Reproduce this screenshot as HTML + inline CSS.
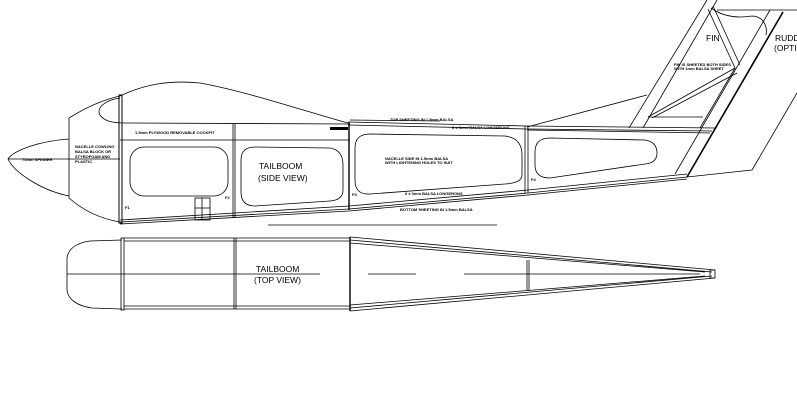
<!DOCTYPE html>
<html><head><meta charset="utf-8"><style>
html,body{margin:0;padding:0;background:#fff;width:797px;height:415px;overflow:hidden}
svg{display:block}
text{font-family:"Liberation Sans",sans-serif;fill:#000}
.s{font-size:4px;font-weight:bold}
.m{font-size:8.5px;font-family:"Liberation Sans",sans-serif}
</style></head><body>
<svg width="797" height="415" viewBox="0 0 797 415" fill="none" stroke="#000" stroke-width="0.8">
<path d="M69,139 C40,141 14,150 8,159 C14,172 40,190 69,196"/>
<line x1="8" y1="159" x2="120" y2="159"/>
<path d="M69,118 C85,108 102,100 120,96"/>
<line x1="69" y1="118" x2="69" y2="198"/>
<path d="M69,198 C85,212 102,219 120,222"/>
<rect x="119" y="95" width="3" height="128" stroke-width="1"/>
<path d="M120,96 C145,84 170,80 200,83 C250,92 320,116 348,123"/>
<path d="M120,98 C105,100 96,108 100,115 C104,121 112,123 125,123 L350,124"/>
<line x1="120" y1="140" x2="350" y2="140"/>
<rect x="330" y="127" width="18" height="3" fill="#000" stroke="none"/>
<line x1="233" y1="124" x2="233" y2="218"/><line x1="235" y1="124" x2="235" y2="218"/>
<line x1="349" y1="122" x2="349" y2="210" stroke-width="1.4"/>
<line x1="525" y1="126" x2="525" y2="193"/><line x1="528" y1="126" x2="528" y2="193"/>
<path d="M348,122 L527,126 L715,128"/>
<path d="M348,125 L527,129 L712,131"/>
<path d="M350,120 L440,121"/>
<path d="M527,130 L710,133"/>
<path d="M120,222 L349,209 L528,193 L687,177 L752,170"/>
<path d="M120,220 L349,206 L528,190 L687,174"/>
<path d="M120,224 L349,211 L528,195 L687,179"/>
<line x1="268" y1="225" x2="497" y2="225"/>
<rect x="130" y="147" width="98" height="49" rx="14"/>
<path d="M255,147 L330,148 Q343,150 343,165 L343,190 Q343,200 330,201 L255,206 Q241,206 241,192 L241,160 Q241,147 255,147 Z"/>
<path d="M370,134 L505,136 Q522,138 522,155 L522,175 Q522,183 505,184 L370,194 Q355,195 355,180 L355,148 Q355,134 370,134 Z"/>
<path d="M550,138 L645,140 Q657,142 657,153 Q657,163 645,164 L550,178 Q535,178 535,165 L535,152 Q535,138 550,138 Z"/>
<rect x="195" y="198" width="15" height="22"/><line x1="202" y1="198" x2="202" y2="220"/><line x1="195" y1="208" x2="210" y2="208"/>
<line x1="527" y1="127" x2="647" y2="95"/>
<line x1="629" y1="128" x2="707" y2="0"/>
<line x1="643" y1="128" x2="717" y2="0"/>
<line x1="675" y1="174" x2="770" y2="10"/>
<line x1="687" y1="177" x2="783" y2="12" stroke-width="1.6"/>
<line x1="700" y1="128" x2="735" y2="68"/>
<line x1="708" y1="9" x2="735" y2="68"/>
<line x1="713" y1="6" x2="740" y2="65"/>
<line x1="648" y1="117" x2="735" y2="68"/>
<line x1="652" y1="118" x2="737" y2="73"/>
<line x1="648" y1="117" x2="703" y2="117"/>
<line x1="717" y1="10" x2="797" y2="10"/>
<path d="M711,8 C725,18 740,18 752,16 C762,16 768,25 766,35"/>
<line x1="752" y1="170" x2="797" y2="93"/>
<path d="M122,240 L90,241 C75,243 68,250 67,258 L67,290 C68,300 78,306 92,308 L122,309"/>
<rect x="121" y="238" width="3" height="72"/>
<line x1="124" y1="238" x2="350" y2="238"/><line x1="124" y1="241" x2="350" y2="241"/>
<line x1="124" y1="306" x2="350" y2="306"/><line x1="124" y1="309" x2="350" y2="309"/>
<line x1="234" y1="238" x2="234" y2="309"/><line x1="236" y1="238" x2="236" y2="309"/>
<line x1="350" y1="237" x2="350" y2="311" stroke-width="1.4"/>
<path d="M350,237 L715,270"/><path d="M350,240 L712,272"/><path d="M350,243 L705,272"/>
<path d="M350,311 L715,278"/><path d="M350,308 L712,276"/><path d="M350,305 L705,276"/>
<line x1="527" y1="260" x2="527" y2="291"/><line x1="529" y1="260" x2="529" y2="291"/>
<rect x="710" y="270" width="5" height="8"/>
<line x1="67" y1="274" x2="320" y2="274"/>
<line x1="368" y1="274" x2="416" y2="274"/>
<line x1="464" y1="274" x2="700" y2="274"/>
</svg>
<svg width="797" height="415" style="position:absolute;left:0;top:0">
<text class="s" x="22" y="161">75mm SPINNER</text>
<text class="s" x="75" y="148">NACELLE COWLING</text>
<text class="s" x="75" y="153">BALSA BLOCK OR</text>
<text class="s" x="75" y="158">STYROFOAM AND</text>
<text class="s" x="75" y="163">PLASTIC</text>
<text class="s" x="135" y="134">1.5mm PLYWOOD REMOVABLE COCKPIT</text>
<text class="m" x="259" y="169">TAILBOOM</text>
<text class="m" x="258" y="181">(SIDE VIEW)</text>
<text class="s" x="385" y="160">NACELLE SIDE IN 1.5mm BALSA</text>
<text class="s" x="385" y="164">WITH LIGHTENING HOLES TO SUIT</text>
<text class="s" x="390" y="121">TOP SHEETING IN 1.5mm BALSA</text>
<text class="s" x="452" y="129">6 x 3mm BALSA LONGERONS</text>
<text class="s" x="405" y="195">6 x 3mm BALSA LONGERONS</text>
<text class="s" x="400" y="211">BOTTOM SHEETING IN 1.5mm BALSA</text>
<text class="s" x="125" y="209">F1</text><text class="s" x="225" y="199">F2</text>
<text class="s" x="352" y="196">F3</text><text class="s" x="531" y="181">F4</text>
<text class="s" x="674" y="66">FIN IS SHEETED BOTH SIDES</text>
<text class="s" x="674" y="70">WITH 1mm BALSA SHEET</text>
<text class="m" x="706" y="41">FIN</text>
<text class="m" x="775" y="41">RUDDE</text>
<text class="m" x="774" y="51">(OPTIO</text>
<text class="m" x="256" y="272">TAILBOOM</text>
<text class="m" x="254" y="283">(TOP VIEW)</text>
</svg>
</body></html>
